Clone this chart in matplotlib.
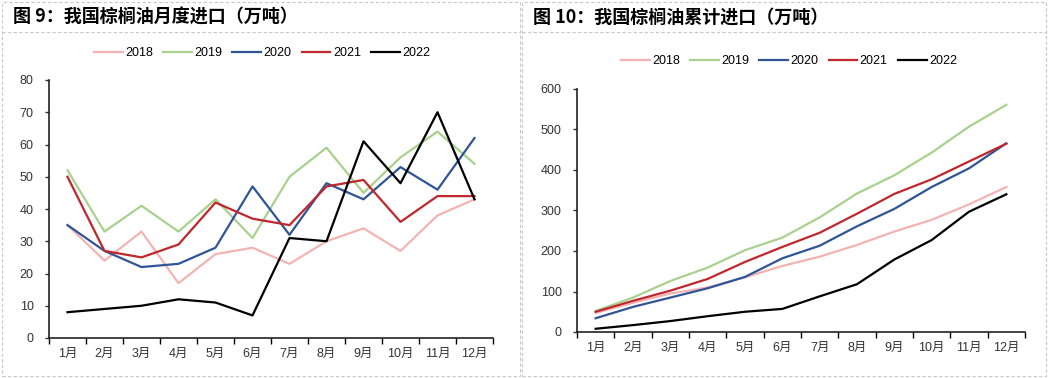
import matplotlib.pyplot as plt
from matplotlib.patches import Rectangle
from matplotlib.lines import Line2D

plt.rcParams['font.family'] = ['Liberation Sans', 'Noto Sans CJK SC', 'DejaVu Sans']

months = ['1月', '2月', '3月', '4月', '5月', '6月', '7月', '8月', '9月', '10月', '11月', '12月']
years = ['2018', '2019', '2020', '2021', '2022']
colors = ['#F4B3B3', '#A9D18E', '#2F5597', '#C0272D', '#000000']

# 月度进口 (万吨)
monthly_2018 = [35, 24, 33, 17, 26, 28, 23, 30, 34, 27, 38, 43]
monthly_2019 = [52, 33, 41, 33, 43, 31, 50, 59, 45, 56, 64, 54]
monthly_2020 = [35, 27, 22, 23, 28, 47, 32, 48, 43, 53, 46, 62]
monthly_2021 = [50, 27, 25, 29, 42, 37, 35, 47, 49, 36, 44, 44]
monthly_2022 = [8, 9, 10, 12, 11, 7, 31, 30, 61, 48, 70, 43]

# 累计进口 (万吨)
cum_2018 = [47, 72, 95, 110, 135, 163, 186, 215, 248, 277, 315, 358]
cum_2019 = [52, 85, 126, 159, 202, 233, 283, 342, 387, 443, 507, 561]
cum_2020 = [34, 62, 85, 108, 136, 182, 213, 261, 304, 358, 404, 466]
cum_2021 = [50, 77, 102, 131, 173, 210, 245, 292, 341, 377, 421, 465]
cum_2022 = [8, 17, 27, 39, 50, 57, 88, 118, 179, 227, 297, 340]

monthly = [monthly_2018, monthly_2019, monthly_2020, monthly_2021, monthly_2022]
cumulative = [cum_2018, cum_2019, cum_2020, cum_2021, cum_2022]

fig = plt.figure(figsize=(10.49, 3.78), dpi=100)

W, H = 1049, 378
# panel frames
for x0, x1 in [(2, 520), (522, 1046)]:
    fig.patches.append(Rectangle((x0 / W, 1 - 376 / H), (x1 - x0) / W, 374 / H,
                                 transform=fig.transFigure, fill=False,
                                 edgecolor='#C8C8C8', linestyle=(0, (3, 2)), lw=0.8))
    fig.lines.append(Line2D([x0 / W, x1 / W], [1 - 32 / H, 1 - 32 / H],
                            transform=fig.transFigure, color='#C8C8C8',
                            linestyle=(0, (3, 2)), lw=0.8))

fig.text(13 / W, 1 - 17 / H, '图 9：我国棕榈油月度进口（万吨）', fontsize=13, fontweight='bold',
         family=['Noto Sans CJK SC'], va='center', ha='left')
fig.text(533 / W, 1 - 17 / H, '图 10：我国棕榈油累计进口（万吨）', fontsize=13, fontweight='bold',
         family=['Noto Sans CJK SC'], va='center', ha='left')


def draw(ax, series, ymax, step):
    x = list(range(len(months)))
    handles = []
    for s, c, y in zip(series, colors, years):
        h, = ax.plot(x, s, color=c, lw=1.6, label=y)
        handles.append(h)
    ax.set_xlim(-0.5, 11.5)
    ax.set_ylim(0, ymax)
    ax.set_yticks(range(0, ymax + 1, step))
    ax.set_xticks(x)
    ax.set_xticklabels(months)
    ax.set_xticks([i - 0.5 for i in range(13)], minor=True)
    ax.tick_params(axis='x', which='major', length=0, pad=7, labelsize=9, colors='#333333')
    ax.tick_params(axis='x', which='minor', length=4, width=1, direction='out')
    ax.tick_params(axis='y', length=3, width=1, labelsize=9, colors='#333333', pad=8)
    for sp in ['top', 'right']:
        ax.spines[sp].set_visible(False)
    for sp in ['left', 'bottom']:
        ax.spines[sp].set_linewidth(1.2)
        ax.spines[sp].set_color('#222222')
    return handles


ax1 = fig.add_axes([49 / W, 1 - 338 / H, 444 / W, 258 / H])
h1 = draw(ax1, monthly, 80, 10)
ax2 = fig.add_axes([577 / W, 1 - 332 / H, 448 / W, 243 / H])
h2 = draw(ax2, cumulative, 600, 100)

for ax, hs, cx, cy in [(ax1, h1, 262 / W, 1 - 53 / H), (ax2, h2, 789 / W, 1 - 61 / H)]:
    fig.legend(hs, years, loc='center', bbox_to_anchor=(cx, cy), ncol=5, frameon=False,
               fontsize=9, handlelength=2.3, columnspacing=0.8, handletextpad=0.2)

fig.savefig('out.png', dpi=100)
